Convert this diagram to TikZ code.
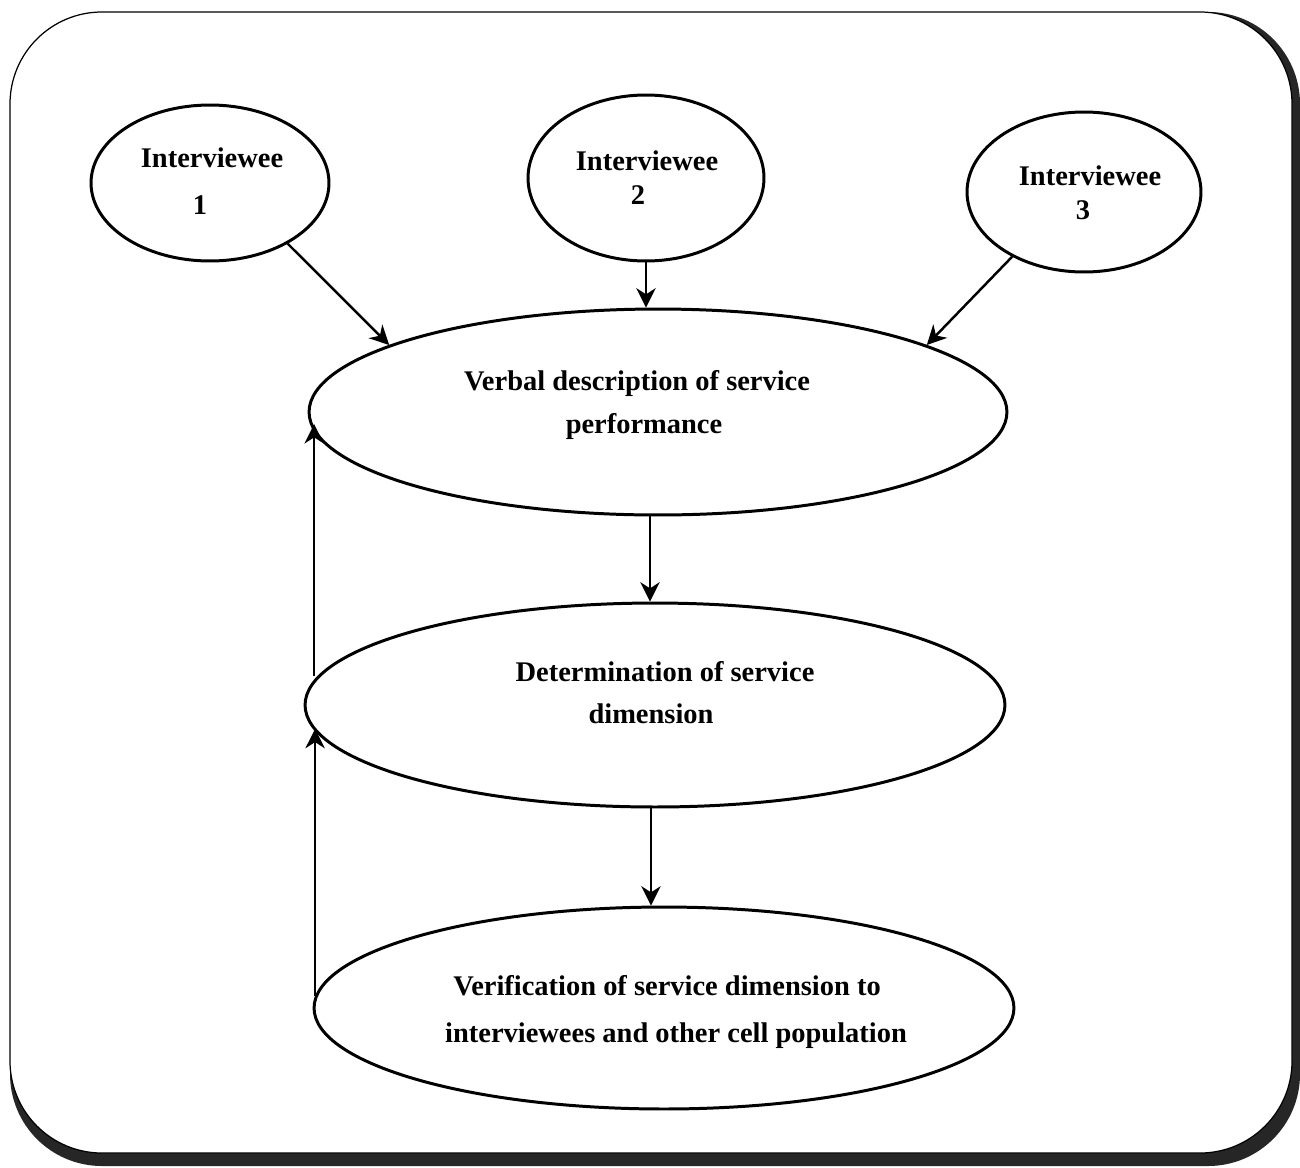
\documentclass[tikz,border=0pt]{standalone}
\usepackage{fontspec}
\setmainfont{Liberation Serif}
\usetikzlibrary{shapes.geometric,arrows.meta,calc}

\begin{document}
\begin{tikzpicture}[
  x=0.02cm, y=-0.02cm,
  ell/.style={ellipse, draw=black, line width=1.7pt, inner sep=0pt, fill=white},
  lbl/.style={font=\bfseries\fontsize{16.2}{19}\selectfont, text height=11pt, text depth=3pt, inner sep=0pt},
  arr/.style={-{Stealth[length=11pt,width=11pt,inset=3.5pt]}, line width=1.4pt},
]
\useasboundingbox (0,0) rectangle (1300,1167);

% frame with a drop shadow on the right and bottom
\fill[black!85, rounded corners=1.84cm] (10,12) rectangle (1300,1166);
\filldraw[fill=white, draw=black, line width=0.7pt, rounded corners=1.84cm] (10,12) rectangle (1292,1153);

% interviewees
\node[ell, minimum width=4.76cm, minimum height=3.12cm] (i1) at (210,183) {};
\node[ell, minimum width=4.72cm, minimum height=3.32cm] (i2) at (646,178) {};
\node[ell, minimum width=4.68cm, minimum height=3.20cm] (i3) at (1084,192) {};

% process stages
\node[ell, minimum width=13.96cm, minimum height=4.12cm] (vb) at (658,412) {};
\node[ell, minimum width=14.00cm, minimum height=4.08cm] (dt) at (655,705) {};
\node[ell, minimum width=14.00cm, minimum height=4.04cm] (vf) at (664,1008) {};

% labels
\node[lbl] (t1a) at (212,160) {Interviewee};
\node[lbl] (t1b) at (200,207) {1};
\node[lbl] (t2a) at (647,163) {Interviewee};
\node[lbl] (t2b) at (638,197) {2};
\node[lbl] (t3a) at (1090,178) {Interviewee};
\node[lbl] (t3b) at (1083,212) {3};
\node[lbl] (vba) at (637,383) {Verbal description of service};
\node[lbl] (vbb) at (644,426) {performance};
\node[lbl] (dta) at (665,674) {Determination of service};
\node[lbl] (dtb) at (651,716) {dimension};
\node[lbl] (vfa) at (667,988) {Verification of service dimension to};
\node[lbl] (vfb) at (676,1035) {interviewees and other cell population};

% connectors
\draw[arr] (i1.-38) -- (vb.166);
\draw[arr] (i2.south) -- (i2.south |- vb.north);
\draw[arr] (i3.222) -- (vb.14);
\draw[arr] ([xshift=-0.16cm]vb.south) -- ([xshift=-0.16cm]vb.south |- dt.north);
\draw[arr] ([xshift=-0.08cm]dt.south) -- ([xshift=-0.08cm]dt.south |- vf.north);
\draw[arr] ([xshift=-0.08cm]dt.175.8) -- ([xshift=-0.08cm]dt.175.8 |- vb.182.6);
\draw[arr] (vf.178) -- (vf.178 |- dt.184.2);
\end{tikzpicture}
\end{document}
